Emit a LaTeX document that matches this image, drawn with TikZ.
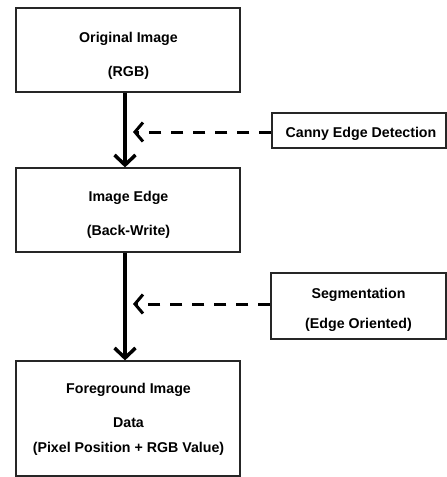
\documentclass[tikz,border=0pt]{standalone}
\usepackage{fontspec}
\setmainfont{Liberation Sans}
\usetikzlibrary{arrows.meta}
\begin{document}
\begin{tikzpicture}[x=1pt,y=-1pt,
  box/.style={draw=black!85, line width=1.2pt, inner sep=0pt},
  txt/.style={anchor=base, inner sep=0pt, font=\fontsize{14.2}{17}\selectfont\bfseries},
  flow/.style={line width=3.5pt, -{Straight Barb[length=10pt,width=21pt]}},
  hint/.style={line width=3pt, dash pattern=on 12pt off 10pt,
    -{Straight Barb[length=8pt,width=19pt]}}]
  \useasboundingbox (0,0) rectangle (447,477);

  % main pipeline boxes
  \node[box, minimum width=224pt, minimum height=84pt] (orig) at (128,50) {};
  \node[box, minimum width=224pt, minimum height=84pt] (edge) at (128,210) {};
  \node[box, minimum width=224pt, minimum height=115pt] (fg) at (128,418.5) {};
  \node[txt] (origA) at (128.5,42) {Original Image};
  \node[txt] (origB) at (128.5,76) {(RGB)};
  \node[txt] (edgeA) at (128.5,201) {Image Edge};
  \node[txt] (edgeB) at (128.5,235) {(Back-Write)};
  \node[txt] (fgA) at (128.5,393) {Foreground Image};
  \node[txt] (fgB) at (128.5,427) {Data};
  \node[txt] (fgC) at (128.5,452) {(Pixel Position + RGB Value)};

  % side operations
  \node[box, minimum width=174pt, minimum height=35pt] (canny) at (359,130.5) {};
  \node[box, minimum width=175pt, minimum height=66pt] (seg) at (358.5,306) {};
  \node[txt] (cannyA) at (361,137) {Canny Edge Detection};
  \node[txt] (segA) at (358.5,298) {Segmentation};
  \node[txt] (segB) at (358.5,328) {(Edge Oriented)};

  % main flow
  \draw[flow] ([xshift=-3pt]orig.south) -- ([xshift=-3pt]edge.north);
  \draw[flow] ([xshift=-3pt]edge.south) -- ([xshift=-3pt]fg.north);

  % operations feeding into the flow
  \coordinate (t1) at (133,132);
  \coordinate (t2) at (133,304);
  \draw[hint] (canny.west |- t1) -- (t1);
  \draw[hint] (seg.west |- t2) -- (t2);
\end{tikzpicture}
\end{document}
